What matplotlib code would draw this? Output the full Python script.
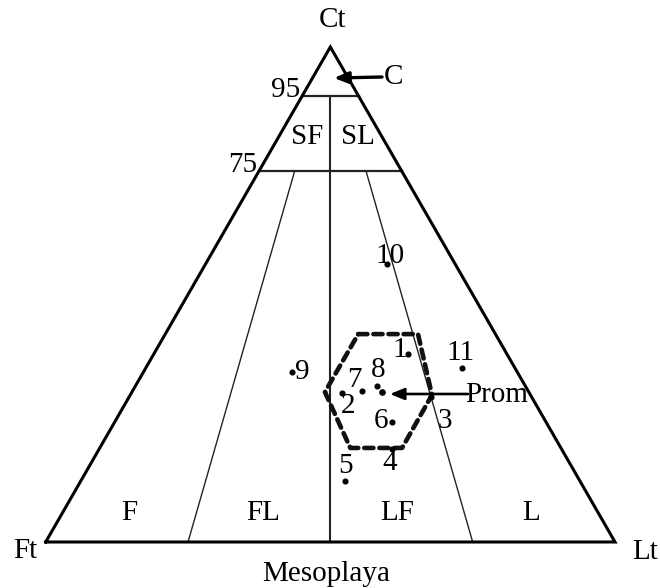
import matplotlib
matplotlib.use("Agg")
import matplotlib.pyplot as plt
import numpy as np

plt.rcParams["font.family"] = ["Liberation Serif", "DejaVu Serif"]

# ---------------- data (percentages: Ct, Lt; Ft = 100 - Ct - Lt) ----------------
sample_ids = ["1", "2", "3", "4", "5", "6", "7", "8", "9", "10", "11"]
sample_ct = [38.0, 30.1, 29.3, 18.8, 12.3, 24.2, 30.5, 31.5, 34.3, 56.2, 35.2]
sample_lt = [44.6, 37.0, 53.0, 51.4, 46.4, 48.7, 40.3, 42.4, 26.1, 31.8, 55.5]
prom_ct = 30.3
prom_lt = 43.9
hex_ct = [42.0, 42.0, 29.7, 19.0, 19.0, 30.3]
hex_lt = [33.9, 44.4, 53.0, 53.1, 44.0, 33.9]
ct_levels = [90, 75]
ct_level_labels = ["95", "75"]
split_ratios = [25, 50, 75]        # Lt/(Lt+Ft) %, dividing lines
split_start = [75, 90, 75]         # Ct % where each dividing line starts
field_labels = ["F", "FL", "LF", "L"]
field_ratios = [12.5, 37.5, 62.5, 87.5]
top_labels = ["SF", "SL"]
top_ratios = [28, 77]

# ---------------- layout ----------------
W, H = 660, 588
X0, XPU = 45.7, 569.3     # pixel x of Ft corner, pixels per unit
Y0, YPU = 542.0, 571.6    # pixel y of base, pixels per unit
S3 = np.sqrt(3) / 2


def tern(ct, lt):
    ct = np.asarray(ct, float) / 100.0
    lt = np.asarray(lt, float) / 100.0
    return lt + ct / 2, ct * S3


def ratio_pt(ct, r):
    lt = (100 - ct) * r / 100.0
    return tern(ct, lt)


def px(x, y):
    return (x - X0) / XPU, (Y0 - y) / YPU


fig = plt.figure(figsize=(W / 100, H / 100), dpi=100)
ax = fig.add_axes([0, 0, 1, 1])
ax.set_xlim(-X0 / XPU, (W - X0) / XPU)
ax.set_ylim(-(H - Y0) / YPU, Y0 / YPU)
ax.axis("off")

FS = 21

# outer triangle
tx, ty = tern([0, 0, 100, 0], [0, 100, 0, 0])
ax.plot(tx, ty, color="black", lw=2.2, solid_joinstyle="miter", zorder=3)

# horizontal Ct levels
for lev, lab in zip(ct_levels, ct_level_labels):
    xa, ya = tern(lev, 0)
    xb, yb = tern(lev, 100 - lev)
    ax.plot([xa, xb], [ya, yb], color="#222222", lw=1.6, zorder=2)
    ax.annotate(lab, (xa, ya), xytext=(-2, 6), textcoords="offset pixels",
                ha="right", va="center", fontsize=FS)

# dividing lines
for r, c0 in zip(split_ratios, split_start):
    xa, ya = ratio_pt(c0, r)
    xb, yb = ratio_pt(0, r)
    ax.plot([xa, xb], [ya, yb], color="#222222",
            lw=1.5 if r == 50 else 1.0, zorder=2)

# field labels
for lab, r in zip(field_labels, field_ratios):
    x, y = ratio_pt(5.9, r)
    ax.text(x, y, lab, ha="center", va="center", fontsize=FS)
for lab, r in zip(top_labels, top_ratios):
    x, y = ratio_pt(81.8, r)
    ax.text(x, y, lab, ha="center", va="center", fontsize=FS)

# hexagon field
hx, hy = tern(hex_ct + hex_ct[:1], hex_lt + hex_lt[:1])
ax.plot(hx, hy, color="#111111", lw=3.3, linestyle=(0, (2.0, 1.3)),
        dash_capstyle="round", zorder=4)

# samples
sx, sy = tern(sample_ct, sample_lt)
ax.plot(sx, sy, "o", color="black", ms=3.4, zorder=5)
offsets = {"1": (-8, 4), "2": (6, -13), "3": (14, -24), "4": (-2, -14),
           "5": (1, 15), "6": (-11, 1), "7": (-8, 11), "8": (1, 16),
           "9": (10, 0), "10": (3, 8), "11": (-1, 15)}
for sid, x, y in zip(sample_ids, sx, sy):
    ax.annotate(sid, (x, y), xytext=offsets[sid], textcoords="offset pixels",
                ha="center", va="center", fontsize=FS, zorder=6)

# mean point (Prom)
pxm, pym = tern(prom_ct, prom_lt)
ax.plot([pxm], [pym], "o", color="black", ms=3.8, zorder=5)
tipx, tipy = px(390, 394)
ax.annotate("", xy=(tipx, tipy), xytext=px(468, 394),
            arrowprops=dict(arrowstyle="-|>,head_length=0.85,head_width=0.35",
                            color="black", lw=1.9, shrinkA=0, shrinkB=0,
                            mutation_scale=10), zorder=6)
ax.text(*px(465, 395), "Prom", ha="left", va="center", fontsize=FS, zorder=6)

# C arrow near apex
ax.annotate("", xy=px(334, 78), xytext=px(382, 77),
            arrowprops=dict(arrowstyle="-|>,head_length=0.85,head_width=0.35",
                            color="black", lw=2.4, shrinkA=0, shrinkB=0,
                            mutation_scale=10), zorder=6)
ax.text(*px(384, 77), "C", ha="left", va="center", fontsize=FS)

# corner labels and title
ax.text(*px(333, 20), "Ct", ha="center", va="center", fontsize=FS)
ax.text(*px(25, 551), "Ft", ha="center", va="center", fontsize=FS)
ax.text(*px(645, 552), "Lt", ha="center", va="center", fontsize=FS)
ax.text(*px(326, 574), "Mesoplaya", ha="center", va="center", fontsize=FS)

fig.savefig("out.png", dpi=100)
